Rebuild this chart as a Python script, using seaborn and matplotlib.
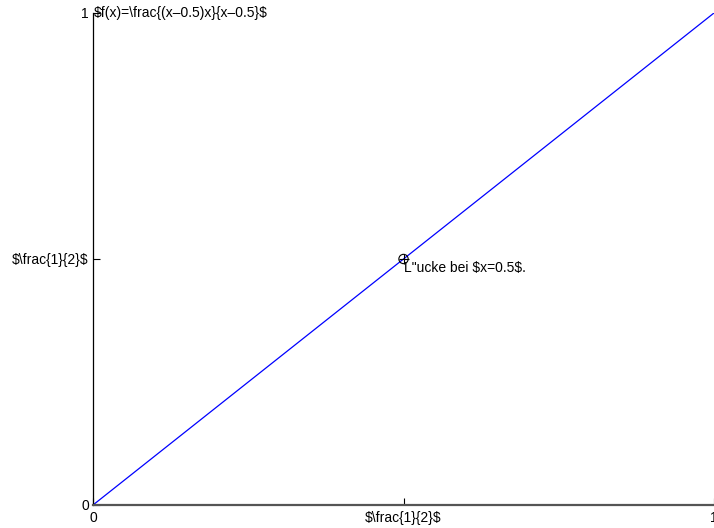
import matplotlib
matplotlib.use("Agg")
import matplotlib.pyplot as plt
import seaborn as sns
import pandas as pd

# f(x) = (x-0.5)x/(x-0.5) equals x everywhere except the hole at x = 0.5
x_vals = [0.0, 0.5, 1.0]
y_vals = [0.0, 0.5, 1.0]
hole_x = [0.5]
hole_y = [0.5]
tick_pos = [0.0, 0.5, 1.0]
x_tick_labels = ["0", "\\$\\frac{1}{2}\\$", "1"]
y_tick_labels = ["0", "\\$\\frac{1}{2}\\$", "1"]
title_text = "\\$f(x)=\\frac{(x–0.5)x}{x–0.5}\\$"
hole_text = 'L"ucke bei \\$x=0.5\\$.'

FS = 10

sns.set_style("white")
plt.rcParams["font.family"] = ["Liberation Sans", "DejaVu Sans"]
plt.rcParams["font.size"] = FS
plt.rcParams["text.color"] = "black"

fig = plt.figure(figsize=(7.14, 5.28), dpi=100)
ax = fig.add_axes([0.1303, 0.0436, 0.8697, 0.9318])

df = pd.DataFrame({"x": x_vals, "y": y_vals})
sns.lineplot(data=df, x="x", y="y", ax=ax, color="#0000ff", linewidth=0.9)

# mark the hole
hole = pd.DataFrame({"x": hole_x, "y": hole_y})
sns.scatterplot(data=hole, x="x", y="y", ax=ax, marker="o", s=45,
                facecolor="none", edgecolor="black", linewidth=0.8, zorder=5)
sns.scatterplot(data=hole, x="x", y="y", ax=ax, marker="+", s=45,
                color="black", linewidth=0.8, zorder=6)

ax.set_xlim(0, 1)
ax.set_ylim(0, 1)
ax.set_xticks(tick_pos)
ax.set_xticklabels(x_tick_labels)
ax.set_yticks(tick_pos)
ax.set_yticklabels(y_tick_labels)
ax.set_xlabel("")
ax.set_ylabel("")

ax.tick_params(axis="both", which="major", bottom=True, left=True,
               direction="in", length=5, width=0.8, colors="black",
               labelcolor="black", labelsize=FS)
ax.tick_params(axis="x", pad=4)
ax.tick_params(axis="y", pad=3)

for side in ("top", "right"):
    ax.spines[side].set_visible(False)
ax.spines["left"].set_color("black")
ax.spines["left"].set_linewidth(0.9)
ax.spines["bottom"].set_color("#555555")
ax.spines["bottom"].set_linewidth(1.6)

ax.text(0.002, 1.0, title_text, ha="left", va="center", fontsize=FS, color="black")
ax.text(hole_x[0], hole_y[0] - 0.004, hole_text, ha="left", va="top",
        fontsize=FS, color="black")

fig.savefig("out.png", dpi=100)
